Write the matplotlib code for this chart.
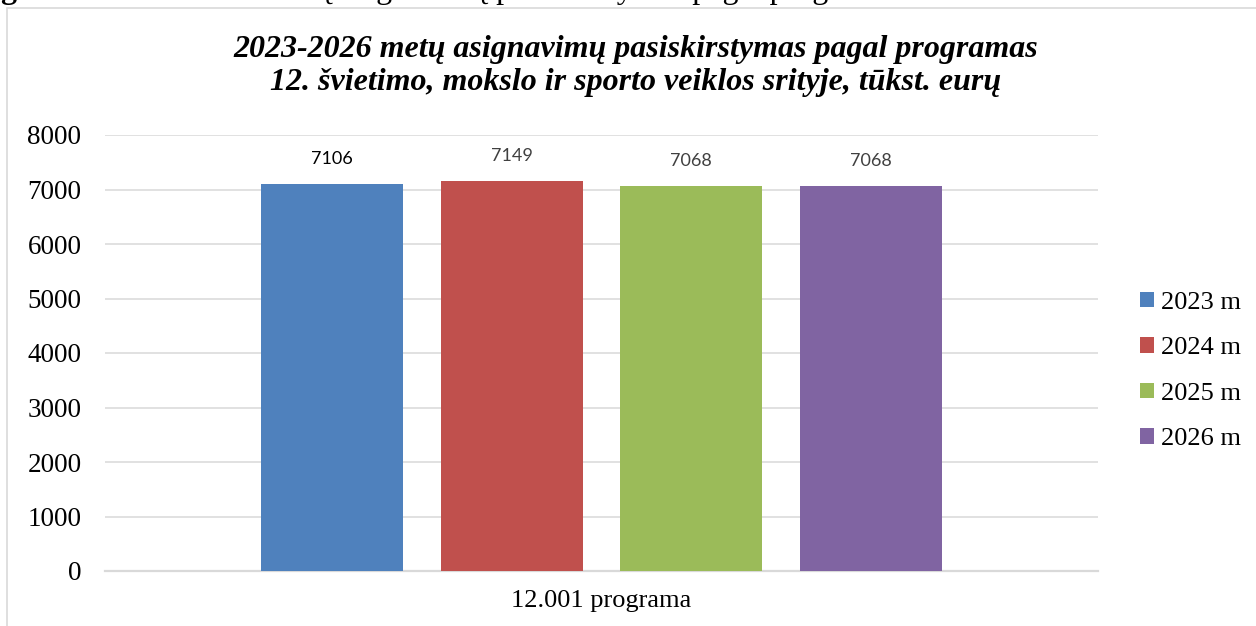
import matplotlib.pyplot as plt
from matplotlib.patches import Patch, Rectangle

COLORS = ["#4F81BD", "#C0504D", "#9BBB59", "#8064A2"]
GRID = "#d9d9d9"

years = ["2023 m", "2024 m", "2025 m", "2026 m"]
values = [7106, 7149, 7068, 7068]
category = "12.001 programa"
yticks = [0, 1000, 2000, 3000, 4000, 5000, 6000, 7000, 8000]

title = ("2023-2026 metų asignavimų pasiskirstymas pagal programas\n"
         "12. švietimo, mokslo ir sporto veiklos srityje, tūkst. eurų")

plt.rcParams.update({
    "font.family": ["Liberation Serif", "DejaVu Serif"],
})

W, H = 1256, 626
fig = plt.figure(figsize=(W / 100, H / 100), dpi=100)
ax = fig.add_axes([105 / W, 1 - 571 / H, (1098 - 105) / W, (571 - 135) / H])

# cropped document caption above the chart frame (only descenders show)
fig.text(0 / W, 1 + 2 / H, "grafikas.", fontsize=23, fontweight="bold",
         ha="left", va="baseline")
fig.text(905 / W, 1 + 2 / H,
         "2023-2026 metų asignavimų pasiskirstymas pagal programas",
         fontsize=23, ha="right", va="baseline")

# chart frame
fig.patches.append(Rectangle((7 / W, -0.1), 1.2, 1 - 8 / H + 0.1,
                             transform=fig.transFigure, fill=False,
                             edgecolor=GRID, lw=1.2))

width = 0.143
step = 0.181
offsets = [(i - 1.5) * step for i in range(len(values))]
label_colors = ["black", "#404040", "#404040", "#404040"]

for off, v, c, lc in zip(offsets, values, COLORS, label_colors):
    ax.bar(off, v, width=width, color=c, zorder=3)
    ax.annotate(str(v), (off, v), xytext=(0, 18), textcoords="offset points",
                ha="center", va="center", fontsize=13, color=lc,
                family="Lato")

ax.set_xlim(-0.5, 0.5)
ax.set_ylim(0, 8000)
ax.set_yticks(yticks)
ax.set_yticklabels([str(t) for t in yticks], fontsize=19.5)
ax.set_xticks([0])
ax.set_xticklabels([category], fontsize=19)
ax.tick_params(axis="y", length=0, pad=17)
ax.tick_params(axis="x", length=0, pad=14)
ax.grid(axis="y", color=GRID, lw=1.1, zorder=0)
ax.set_axisbelow(True)
for s in ["left", "right", "top"]:
    ax.spines[s].set_visible(False)
ax.spines["bottom"].set_color(GRID)
ax.spines["bottom"].set_linewidth(1.6)

fig.text(636 / W, 1 - 66 / H, title, ha="center", va="center",
         fontsize=23, fontweight="bold", fontstyle="italic", linespacing=1.17)

handles = [Patch(facecolor=c, edgecolor="none") for c in COLORS]
fig.legend(handles, years, loc="center left",
           bbox_to_anchor=(1140 / W, 1 - 371 / H), frameon=False,
           fontsize=19, handlelength=0.53, handleheight=0.53,
           handletextpad=0.27, labelspacing=0.88, borderaxespad=0,
           borderpad=0)

fig.savefig("out.png", dpi=100)
